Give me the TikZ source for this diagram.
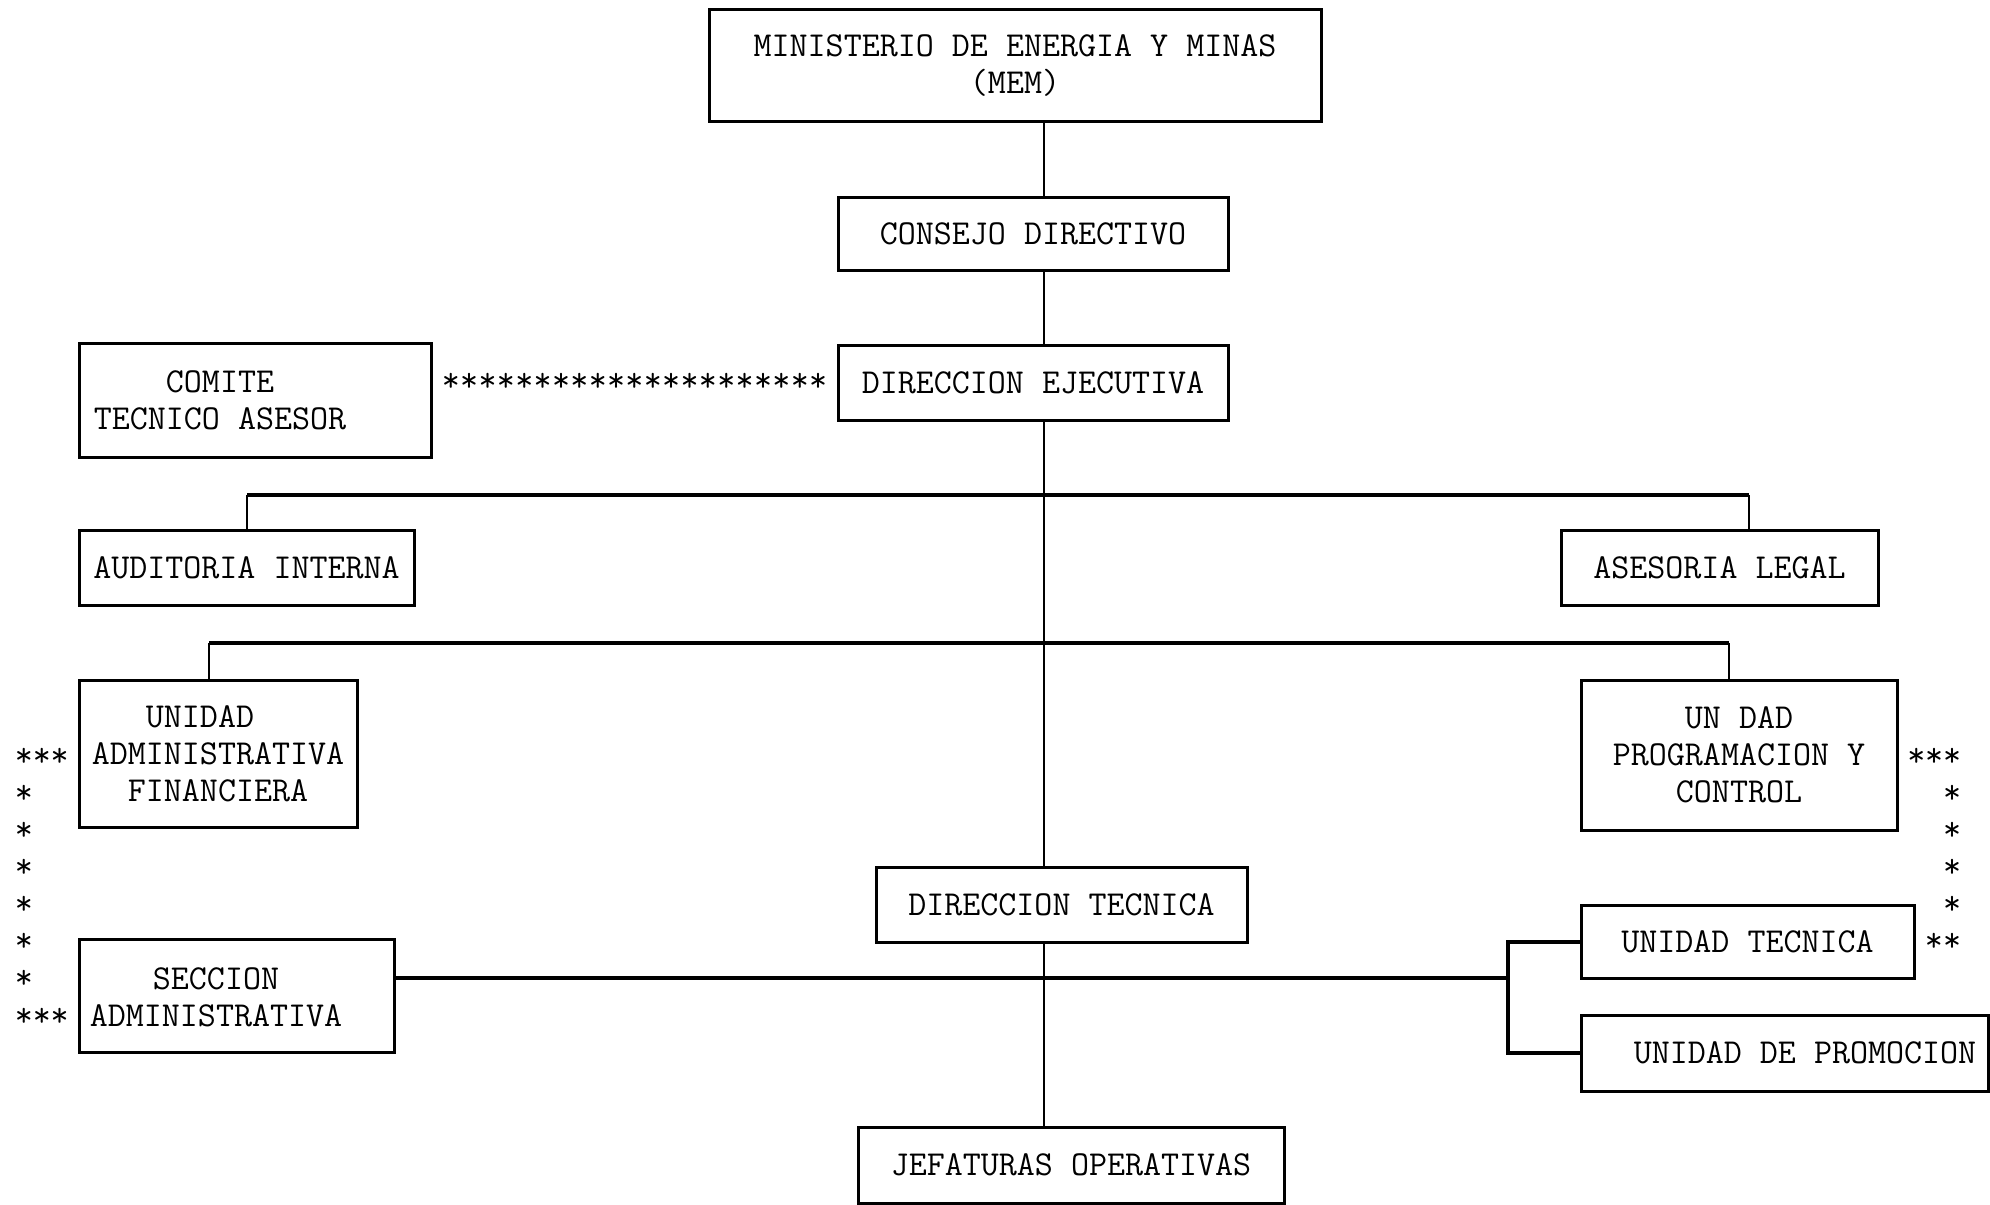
\documentclass[tikz,border=0pt]{standalone}
\usepackage{tikz}
\usetikzlibrary{calc}

\newcommand{\boxfont}{\fontsize{17.5pt}{18.5pt}\selectfont\ttfamily}

\begin{document}
\begin{tikzpicture}[
  x=0.5pt, y=-0.5pt,
  unit/.style={rectangle, draw, line width=1.5pt, inner sep=0pt,
               align=center, font=\boxfont},
  txt/.style={inner sep=0pt, align=center, font=\boxfont},
  bar/.style={line width=2pt},
  drop/.style={line width=1.1pt},
  ast/.style={inner sep=0pt, font=\boxfont},
]
\useasboundingbox (0,0) rectangle (1990,1204);

\node[unit, minimum width=306pt, minimum height=56pt]   (mem)     at (1015,66)     {MINISTERIO DE ENERGIA Y MINAS\\(MEM)};
\node[unit, minimum width=195pt, minimum height=36.5pt] (consejo) at (1033,233.5)  {CONSEJO DIRECTIVO};
\node[unit, minimum width=195pt, minimum height=37.5pt] (direj)   at (1033,382.5)  {DIRECCION EJECUTIVA};
\node[unit, minimum width=176pt, minimum height=57pt]   (comite)  at (255,400)     {};
\node[txt]  (comite-t) at (220,400) {COMITE\\TECNICO ASESOR};
\node[unit, minimum width=167.5pt, minimum height=37.5pt] (aud)   at (246.5,567.5) {AUDITORIA INTERNA};
\node[unit, minimum width=158.5pt, minimum height=37.5pt] (ases)  at (1719.5,567.5){ASESORIA LEGAL};
\node[unit, minimum width=139pt, minimum height=73.5pt] (uaf)     at (218,753.5)   {UNIDAD\phantom{XX}\\ADMINISTRATIVA\\FINANCIERA};
\node[unit, minimum width=158pt, minimum height=75pt]   (upc)     at (1739,755)    {UN DAD\\PROGRAMACION Y\\CONTROL};
\node[unit, minimum width=185.5pt, minimum height=37.5pt] (dt)    at (1061.5,904.5){DIRECCION TECNICA};
\node[unit, minimum width=157.5pt, minimum height=56.5pt] (sec)   at (236.5,995.5) {};
\node[txt]  (sec-t) at (216,997) {SECCION\\ADMINISTRATIVA};
\node[unit, minimum width=166.5pt, minimum height=36.5pt] (ut)    at (1747.5,941.5){UNIDAD TECNICA};
\node[unit, minimum width=203.5pt, minimum height=38pt] (promo)   at (1784.5,1053) {};
\node[txt]  (promo-t) at (1805,1053) {UNIDAD DE PROMOCION};
\node[unit, minimum width=213pt, minimum height=38pt]   (jef)     at (1071,1165)   {JEFATURAS OPERATIVAS};

% line of authority
\coordinate (trunk) at (1044,0);
\draw[drop] (mem.south -| trunk) -- (consejo.north -| trunk);
\draw[drop] (consejo.south -| trunk) -- (direj.north -| trunk);
\draw[drop] (direj.south -| trunk) -- (dt.north -| trunk);
\draw[drop] (dt.south -| trunk) -- (jef.north -| trunk);

\coordinate (bar1l) at (247,495);
\coordinate (bar1r) at (1749,495);
\draw[bar] (bar1l) -- (bar1r);
\draw[drop] (bar1l) -- (bar1l |- aud.north);
\draw[drop] (bar1r) -- (bar1r |- ases.north);

\coordinate (bar2l) at (209,643);
\coordinate (bar2r) at (1729,643);
\draw[bar] (bar2l) -- (bar2r);
\draw[drop] (bar2l) -- (bar2l |- uaf.north);
\draw[drop] (bar2r) -- (bar2r |- upc.north);

\coordinate (bar3) at (1508,978);
\draw[bar] (sec.east |- bar3) -- (bar3);
\draw[bar] (ut.west) -| (promo.west -| bar3) -- (promo.west);

% coordination (stars)
\foreach \i in {1,...,21}
  \node[ast] (cs\i) at ($(comite.east |- direj.west)!\i/22!(direj.west)$) {*};

\coordinate (lt) at (24,757);
\coordinate (lb) at (24,1017);
\foreach \i in {1,2,3}
  \node[ast] (lu\i) at ($(uaf.west |- lt)!\i/3!(lt)$) {*};
\foreach \i in {1,...,6}
  \node[ast] (lc\i) at ($(lt)!\i/7!(lb)$) {*};
\foreach \i in {0,1,2}
  \node[ast] (ld\i) at ($(lb)!\i/3!(sec.west |- lb)$) {*};

\coordinate (rt) at (1952,757);
\coordinate (rb) at (1952,942);
\foreach \i in {1,2,3}
  \node[ast] (ru\i) at ($(upc.east |- rt)!\i/3!(rt)$) {*};
\foreach \i in {1,...,4}
  \node[ast] (rc\i) at ($(rt)!\i/5!(rb)$) {*};
\foreach \i in {0,1}
  \node[ast] (rd\i) at ($(rb)!\i/2!(ut.east |- rb)$) {*};
\end{tikzpicture}
\end{document}
